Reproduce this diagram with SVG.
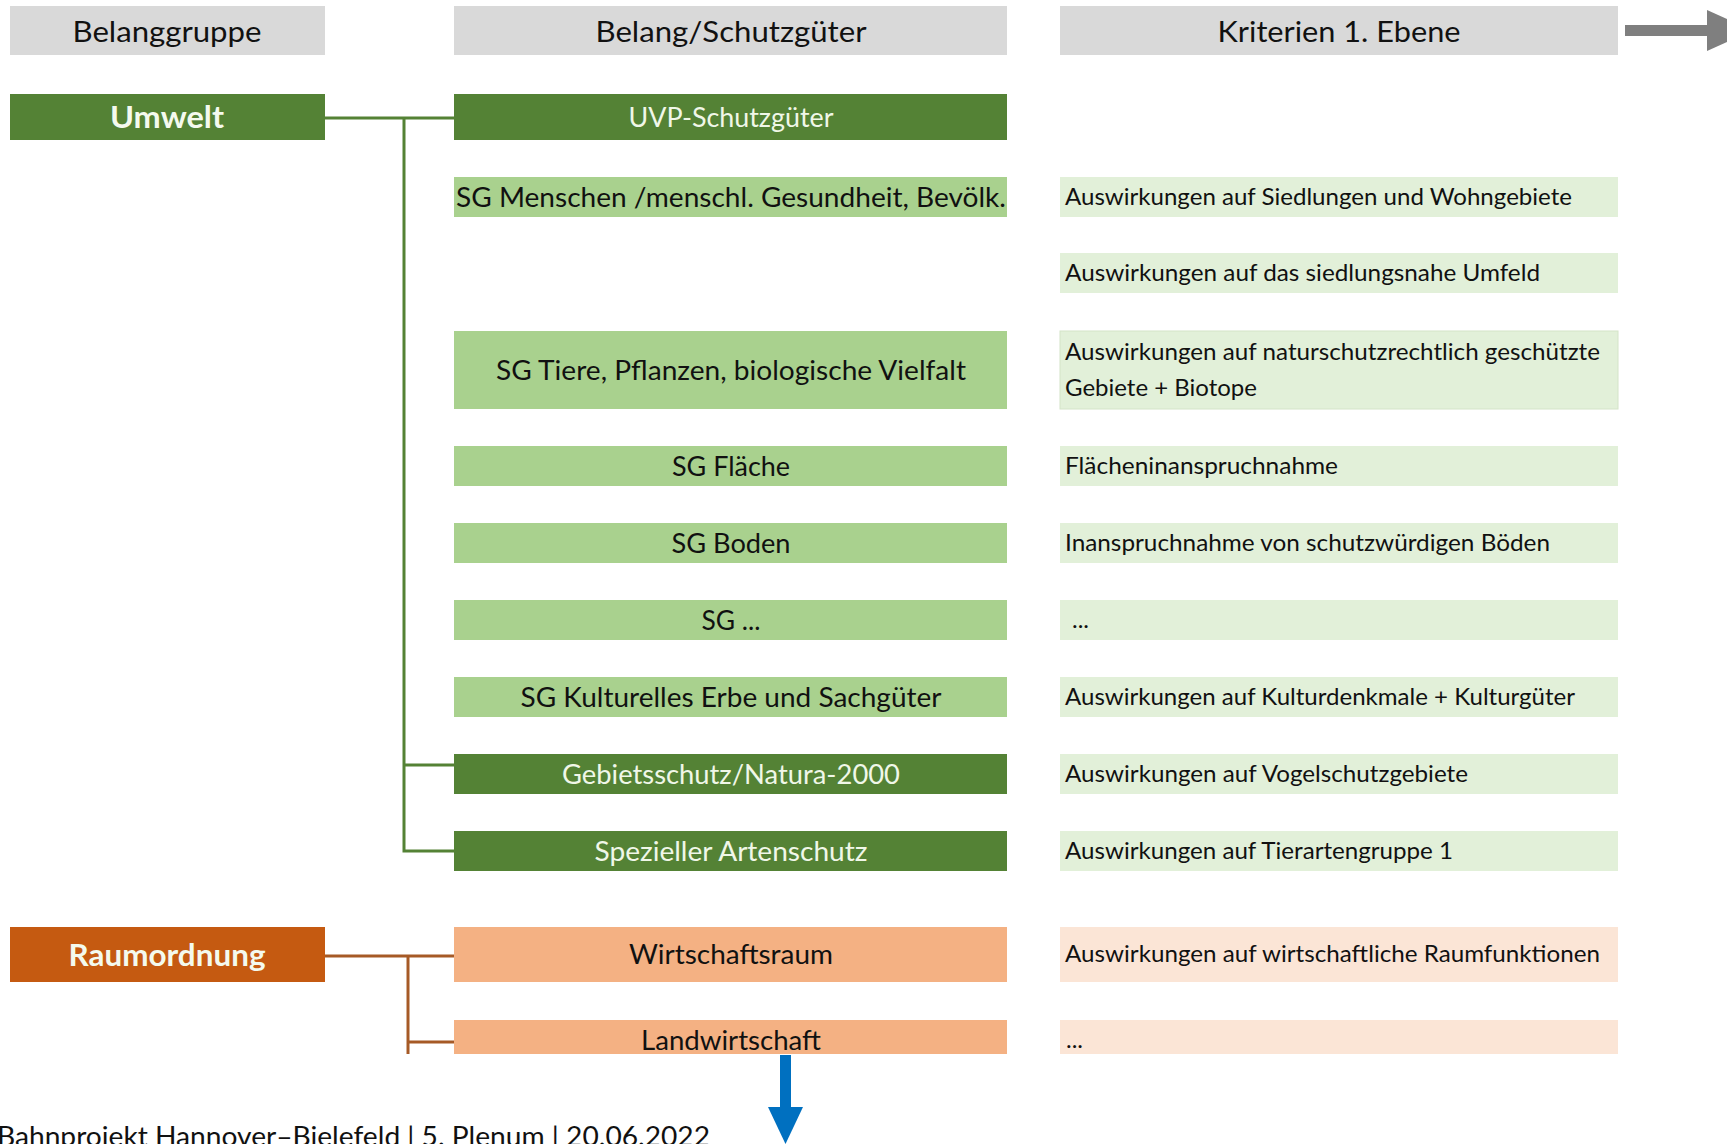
<svg xmlns="http://www.w3.org/2000/svg" width="1727" height="1144" viewBox="0 0 1727 1144">
<style>
text{font-family:Lato,"Open Sans","Liberation Sans",sans-serif;}
.hdr{fill:#D9D9D9}
.hdrt{font-size:29px;fill:#111;text-anchor:middle}
.dk{fill:#548235}
.lt{fill:#A9D18E}
.vl{fill:#E2F0D9}
.or{fill:#C55A11}
.lo{fill:#F4B183}
.vo{fill:#FBE5D6}
.grp{font-size:30px;font-weight:bold;fill:#F4FAEE;text-anchor:middle}
.mw{font-size:26px;fill:#F0F7E8;text-anchor:middle}
.mb{font-size:26px;fill:#111;text-anchor:middle}
.cr{font-size:24px;fill:#111}
.gl{stroke:#548235;stroke-width:3;fill:none}
.ol{stroke:#A65A26;stroke-width:3;fill:none}
</style>
<rect width="1727" height="1144" fill="#FFFFFF"/>

<g id="header-belanggruppe"><rect class="hdr" x="10" y="6" width="315" height="49"/><text class="hdrt" x="167" y="42" textLength="189" lengthAdjust="spacingAndGlyphs">Belanggruppe</text></g>
<g id="header-belang"><rect class="hdr" x="454" y="6" width="553" height="49"/><text class="hdrt" x="731" y="42" textLength="271" lengthAdjust="spacingAndGlyphs">Belang/Schutzgüter</text></g>
<g id="header-kriterien"><rect class="hdr" x="1060" y="6" width="558" height="49"/><text class="hdrt" x="1339" y="42" textLength="243" lengthAdjust="spacingAndGlyphs">Kriterien 1. Ebene</text></g>
<g id="arrow-right"><rect x="1625" y="25" width="84" height="11" fill="#7F7F7F"/><polygon points="1707,10 1752,30.5 1707,51" fill="#7F7F7F"/></g>

<g id="connectors">
<polyline class="gl" points="325,118 454,118"/>
<polyline class="gl" points="404,118 404,851 454,851"/>
<polyline class="gl" points="404,765 454,765"/>
<polyline class="ol" points="325,956 454,956"/>
<polyline class="ol" points="408,956 408,1054"/>
<polyline class="ol" points="408,1042 454,1042"/>
</g>

<g id="umwelt"><rect class="dk" x="10" y="94" width="315" height="46"/><text class="grp" x="167" y="128" textLength="114" lengthAdjust="spacingAndGlyphs">Umwelt</text></g>
<g id="uvp"><rect class="dk" x="454" y="94" width="553" height="46"/><text class="mw" x="731" y="127" textLength="205" lengthAdjust="spacingAndGlyphs">UVP-Schutzgüter</text></g>

<g id="sg-menschen"><rect class="lt" x="454" y="177" width="553" height="40"/><text class="mb" x="731" y="207" textLength="550" lengthAdjust="spacingAndGlyphs">SG Menschen /menschl. Gesundheit, Bevölk.</text></g>
<g id="k-siedlungen"><rect class="vl" x="1060" y="177" width="558" height="40"/><text class="cr" x="1065" y="205" textLength="507" lengthAdjust="spacingAndGlyphs">Auswirkungen auf Siedlungen und Wohngebiete</text></g>
<g id="k-umfeld"><rect class="vl" x="1060" y="253" width="558" height="40"/><text class="cr" x="1065" y="281" textLength="475" lengthAdjust="spacingAndGlyphs">Auswirkungen auf das siedlungsnahe Umfeld</text></g>

<g id="sg-tiere"><rect class="lt" x="454" y="331" width="553" height="78"/><text class="mb" x="731" y="380" textLength="470" lengthAdjust="spacingAndGlyphs">SG Tiere, Pflanzen, biologische Vielfalt</text></g>
<g id="k-natur"><rect class="vl" x="1060" y="331" width="558" height="78" stroke="#D4E4C8" stroke-width="1"/><text class="cr" x="1065" y="360" textLength="535" lengthAdjust="spacingAndGlyphs">Auswirkungen auf naturschutzrechtlich geschützte</text><text class="cr" x="1065" y="396" textLength="192" lengthAdjust="spacingAndGlyphs">Gebiete + Biotope</text></g>

<g id="sg-flaeche"><rect class="lt" x="454" y="446" width="553" height="40"/><text class="mb" x="731" y="476" textLength="118" lengthAdjust="spacingAndGlyphs">SG Fläche</text></g>
<g id="k-flaeche"><rect class="vl" x="1060" y="446" width="558" height="40"/><text class="cr" x="1065" y="474" textLength="273" lengthAdjust="spacingAndGlyphs">Flächeninanspruchnahme</text></g>

<g id="sg-boden"><rect class="lt" x="454" y="523" width="553" height="40"/><text class="mb" x="731" y="553" textLength="119" lengthAdjust="spacingAndGlyphs">SG Boden</text></g>
<g id="k-boden"><rect class="vl" x="1060" y="523" width="558" height="40"/><text class="cr" x="1065" y="551" textLength="485" lengthAdjust="spacingAndGlyphs">Inanspruchnahme von schutzwürdigen Böden</text></g>

<g id="sg-etc"><rect class="lt" x="454" y="600" width="553" height="40"/><text class="mb" x="731" y="630" textLength="59" lengthAdjust="spacingAndGlyphs">SG ...</text></g>
<g id="k-etc"><rect class="vl" x="1060" y="600" width="558" height="40"/><text class="cr" x="1072" y="628">...</text></g>

<g id="sg-kultur"><rect class="lt" x="454" y="677" width="553" height="40"/><text class="mb" x="731" y="707" textLength="421" lengthAdjust="spacingAndGlyphs">SG Kulturelles Erbe und Sachgüter</text></g>
<g id="k-kultur"><rect class="vl" x="1060" y="677" width="558" height="40"/><text class="cr" x="1065" y="705" textLength="510" lengthAdjust="spacingAndGlyphs">Auswirkungen auf Kulturdenkmale + Kulturgüter</text></g>

<g id="gebietsschutz"><rect class="dk" x="454" y="754" width="553" height="40"/><text class="mw" x="731" y="784" textLength="338" lengthAdjust="spacingAndGlyphs">Gebietsschutz/Natura-2000</text></g>
<g id="k-vogel"><rect class="vl" x="1060" y="754" width="558" height="40"/><text class="cr" x="1065" y="782" textLength="403" lengthAdjust="spacingAndGlyphs">Auswirkungen auf Vogelschutzgebiete</text></g>

<g id="artenschutz"><rect class="dk" x="454" y="831" width="553" height="40"/><text class="mw" x="731" y="861" textLength="273" lengthAdjust="spacingAndGlyphs">Spezieller Artenschutz</text></g>
<g id="k-tierarten"><rect class="vl" x="1060" y="831" width="558" height="40"/><text class="cr" x="1065" y="859" textLength="388" lengthAdjust="spacingAndGlyphs">Auswirkungen auf Tierartengruppe 1</text></g>

<g id="raumordnung"><rect class="or" x="10" y="927" width="315" height="55"/><text class="grp" x="167" y="966" textLength="197" lengthAdjust="spacingAndGlyphs" fill="#FFF3EA">Raumordnung</text></g>
<g id="wirtschaftsraum"><rect class="lo" x="454" y="927" width="553" height="55"/><text class="mb" x="731" y="964" textLength="204" lengthAdjust="spacingAndGlyphs">Wirtschaftsraum</text></g>
<g id="k-wirtschaft"><rect class="vo" x="1060" y="927" width="558" height="55"/><text class="cr" x="1065" y="962" textLength="535" lengthAdjust="spacingAndGlyphs">Auswirkungen auf wirtschaftliche Raumfunktionen</text></g>

<g id="landwirtschaft"><rect class="lo" x="454" y="1020" width="553" height="34"/><text class="mb" x="731" y="1050" textLength="180" lengthAdjust="spacingAndGlyphs">Landwirtschaft</text></g>
<g id="k-land"><rect class="vo" x="1060" y="1020" width="558" height="34"/><text class="cr" x="1066" y="1048">...</text></g>

<g id="arrow-down"><rect x="780" y="1055" width="11" height="54" fill="#0070C0"/><polygon points="768,1107 803,1107 785.5,1144" fill="#0070C0"/></g>

<text x="-3" y="1146" font-size="26" fill="#111" textLength="713" lengthAdjust="spacingAndGlyphs">Bahnprojekt Hannover–Bielefeld | 5. Plenum | 20.06.2022</text>
</svg>
